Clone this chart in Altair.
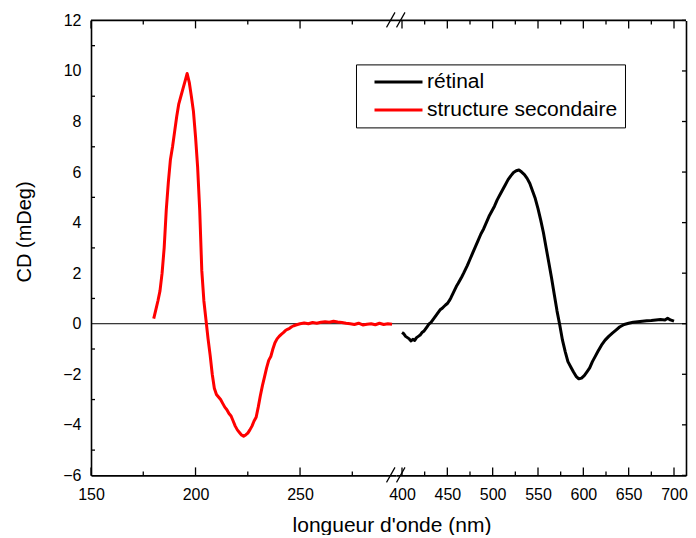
import altair as alt
import pandas as pd

# ---------------- data ----------------
sec_nm = [180, 181, 182, 183, 184, 185, 186, 187, 188, 189, 190, 191, 192, 193, 194, 195, 196,
          197, 198, 199, 200, 201, 202, 203, 204, 205, 206, 207, 208, 209, 210, 211, 212, 213,
          214, 215, 216, 217, 218, 219, 220, 221, 222, 223, 224, 225, 226, 227, 228, 229, 230,
          231, 232, 233, 234, 235, 236, 237, 238, 239, 240, 241, 242, 243, 244, 245, 246, 247,
          248, 250, 252, 254, 256, 258, 260, 262, 264, 266, 268, 270, 272, 274, 276, 278, 280,
          282, 284, 286, 288, 290, 292, 294]
sec_cd = [0.2, 0.55, 0.9, 1.3, 2.0, 3.0, 4.5, 5.6, 6.5, 7.0, 7.6, 8.2, 8.7, 9.0, 9.3, 9.6, 9.9,
          9.55, 9.0, 8.4, 7.4, 6.2, 4.5, 2.1, 0.9, 0.15, -0.6, -1.25, -2.0, -2.55, -2.8, -2.9,
          -3.0, -3.15, -3.3, -3.4, -3.55, -3.65, -3.85, -4.05, -4.2, -4.3, -4.4, -4.45, -4.4,
          -4.33, -4.2, -4.05, -3.85, -3.7, -3.3, -2.85, -2.45, -2.1, -1.75, -1.45, -1.3, -1.0,
          -0.75, -0.6, -0.5, -0.42, -0.35, -0.27, -0.22, -0.18, -0.12, -0.08, -0.05, 0.0, 0.03,
          0.0, 0.05, 0.02, 0.06, 0.08, 0.06, 0.1, 0.07, 0.05, 0.02, 0.0, -0.03, 0.02, -0.05,
          -0.02, 0.0, -0.04, 0.02, -0.03, 0.0, -0.02]

ret_nm = [400, 402, 404, 406, 408, 410, 412, 414, 416, 418, 420, 422, 424, 426, 428, 430, 432,
          434, 436, 438, 440, 442, 444, 446, 448, 450, 452, 454, 456, 458, 460, 462, 464, 466,
          468, 470, 472, 475, 478, 481, 484, 487, 490, 493, 496, 499, 502, 505, 508, 511, 514,
          517, 520, 523, 526, 529, 532, 535, 538, 541, 544, 547, 550, 553, 556, 559, 562, 565,
          568, 571, 574, 577, 580, 583, 586, 589, 592, 595, 598, 601, 604, 607, 610, 613, 616,
          620, 624, 628, 632, 636, 640, 645, 650, 655, 660, 665, 670, 675, 680, 685, 690, 693,
          696, 700]
ret_cd = [-0.35, -0.4, -0.5, -0.55, -0.6, -0.68, -0.62, -0.66, -0.55, -0.5, -0.45, -0.35, -0.3,
          -0.2, -0.1, 0.0, 0.05, 0.15, 0.25, 0.35, 0.45, 0.55, 0.6, 0.67, 0.74, 0.8, 0.9, 1.03,
          1.18, 1.33, 1.48, 1.6, 1.73, 1.86, 2.0, 2.15, 2.3, 2.55, 2.8, 3.05, 3.3, 3.55, 3.75,
          4.0, 4.25, 4.45, 4.65, 4.9, 5.1, 5.3, 5.5, 5.7, 5.85, 5.98, 6.05, 6.08, 6.0, 5.9,
          5.75, 5.55, 5.25, 4.95, 4.55, 4.1, 3.6, 3.0, 2.4, 1.8, 1.15, 0.5, -0.05, -0.65, -1.1,
          -1.5, -1.7, -1.9, -2.08, -2.18, -2.15, -2.05, -1.9, -1.75, -1.5, -1.3, -1.1, -0.85,
          -0.65, -0.5, -0.37, -0.25, -0.13, -0.03, 0.02, 0.06, 0.08, 0.1, 0.12, 0.13, 0.15, 0.17,
          0.15, 0.22, 0.15, 0.1]

series_names = ["rétinal", "structure secondaire"]
series_colors = ["#000000", "#ff0000"]

y_labels = [-6, -4, -2, 0, 2, 4, 6, 8, 10, 12]
y_ticks_left = [-5, -3, -1, 1, 3, 5, 7, 9, 11]
y_ticks_right = [-6, -4, -2, 0, 2, 4, 6, 8, 10, 12]
x_labels_left = [150, 200, 250]
x_minor_left = [175, 225, 275]
x_labels_right = [400, 450, 500, 550, 600, 650, 700]
x_minor_right = [425, 475, 525, 575, 625, 675]
zero_level = [0]

# ---------------- layout ----------------
W_L, W_R, H = 305, 290, 455
K_R = 0.9067                       # px per nm in the right part
X_DOM_L = [150, 150 + W_L / 2.0905]
X_DOM_R = [400 - 6 / K_R, 400 + (W_R - 6) / K_R]
Y_DOM = [-6, 12]
FONT = "Liberation Sans"
MAJOR, MINOR, YTICK = 8, 4, 4
BORDER_W, TICK_W = 1.6, 1.3

sec = pd.DataFrame({"nm": sec_nm, "cd": sec_cd, "serie": series_names[1]})
ret = pd.DataFrame({"nm": ret_nm, "cd": ret_cd, "serie": series_names[0]})
zero_df = pd.DataFrame({"cd": zero_level})
top_df = pd.DataFrame({"cd": [Y_DOM[1]]})
one = pd.DataFrame({"k": [0]})

ys = alt.Scale(domain=Y_DOM, nice=False, zero=False)


def xs(dom):
    return alt.Scale(domain=dom, nice=False, zero=False)


def color_enc(with_legend):
    if with_legend:
        leg = alt.Legend(orient="none", legendX=-40, legendY=44, title=None,
                         strokeColor="black", fillColor="white", padding=7, rowPadding=6,
                         symbolType="M-4,0H4", symbolSize=144, symbolStrokeWidth=3,
                         symbolOffset=25, labelOffset=18, labelFontSize=21, labelFont=FONT,
                         labelColor="black", labelLimit=400)
    else:
        leg = None
    return alt.Color("serie:N", scale=alt.Scale(domain=series_names, range=series_colors),
                     legend=leg)


# Helper layers leave the axis unspecified, so the explicit axes of the data line win
def hline(df):
    return alt.Chart(df).mark_rule(color="black", strokeWidth=1).encode(
        y=alt.Y("cd:Q", scale=ys))


def top_border():
    return alt.Chart(top_df).mark_rule(color="black", strokeWidth=BORDER_W).encode(
        y=alt.Y("cd:Q", scale=ys))


def x_ticks(values, xsc, length):
    df = pd.DataFrame({"nm": values})
    base = alt.Chart(df).mark_rule(color="black", strokeWidth=TICK_W)
    bottom = base.encode(x=alt.X("nm:Q", scale=xsc),
                         y=alt.value(H), y2=alt.value(H - length))
    top = base.encode(x=alt.X("nm:Q", scale=xsc),
                      y=alt.value(0), y2=alt.value(length))
    return [bottom, top]


def y_ticks(values, x0, x1):
    df = pd.DataFrame({"cd": values})
    return alt.Chart(df).mark_rule(color="black", strokeWidth=TICK_W).encode(
        y=alt.Y("cd:Q", scale=ys), x=alt.value(x0), x2=alt.value(x1))


axis_style = dict(ticks=False, domain=True, domainColor="black", domainWidth=BORDER_W,
                  labelFontSize=16, labelFont=FONT, labelColor="black", grid=False)

# ---------------- left part: 150 - 296 nm ----------------
xl = xs(X_DOM_L)
left_line = alt.Chart(sec).mark_line(strokeWidth=3, strokeJoin="round").encode(
    x=alt.X("nm:Q", scale=xl,
            axis=alt.Axis(orient="bottom", values=x_labels_left, labelPadding=11,
                          labelFlush=False, title="longueur d'onde (nm)", titleFontSize=21,
                          titleFontWeight="normal", titleFont=FONT, titleColor="black",
                          titleX=300.5, titleY=56, titleAlign="center",
                          titleBaseline="alphabetic", titleAngle=0, **axis_style)),
    y=alt.Y("cd:Q", scale=ys,
            axis=alt.Axis(orient="left", values=y_labels, labelPadding=10,
                          title="CD (mDeg)", titleFontSize=20, titleFontWeight="normal",
                          titleFont=FONT, titleColor="black", titleX=-67, titleY=211,
                          titleAngle=270, titleAlign="center", titleBaseline="middle",
                          **axis_style)),
    color=color_enc(False),
)
left_layers = [hline(zero_df), top_border()]
left_layers += x_ticks(x_labels_left, xl, MAJOR) + x_ticks(x_minor_left, xl, MINOR)
left_layers += [y_ticks(y_ticks_left, 0, YTICK), left_line]
left = alt.layer(*left_layers).properties(width=W_L, height=H)

# ---------------- right part: 394 - 713 nm ----------------
xr = xs(X_DOM_R)
right_line = alt.Chart(ret).mark_line(strokeWidth=3, strokeJoin="round").encode(
    x=alt.X("nm:Q", scale=xr,
            axis=alt.Axis(orient="bottom", values=x_labels_right, labelPadding=11,
                          labelFlush=False, title=None, **axis_style)),
    y=alt.Y("cd:Q", scale=ys,
            axis=alt.Axis(orient="right", labels=False, title=None, **axis_style)),
    color=color_enc(True),
)
right_layers = [hline(zero_df), top_border()]
right_layers += x_ticks(x_labels_right, xr, MAJOR) + x_ticks(x_minor_right, xr, MINOR)
right_layers += [y_ticks(y_ticks_right, W_R, W_R - YTICK), right_line]
# axis-break marks "//" on the top and bottom frame lines
for yoff in (0, H):
    for dx in (0, 10):
        right_layers.append(
            alt.Chart(one).mark_rule(color="black", strokeWidth=1.2).encode(
                x=alt.value(-9.5 + dx), x2=alt.value(-1 + dx),
                y=alt.value(yoff + 7), y2=alt.value(yoff - 8)))
right = alt.layer(*right_layers).properties(width=W_R, height=H)

chart = alt.hconcat(left, right, spacing=0, bounds="flush").resolve_scale(
    color="independent", x="independent", y="independent"
).properties(
    padding={"left": 6, "top": 3.4, "right": 0, "bottom": 0}
).configure(font=FONT).configure_view(stroke=None).configure_axis(
    labelFont=FONT, titleFont=FONT, labelColor="black", titleColor="black", grid=False
)

chart.save("out.html", embed_options={"renderer": "svg", "actions": False})
